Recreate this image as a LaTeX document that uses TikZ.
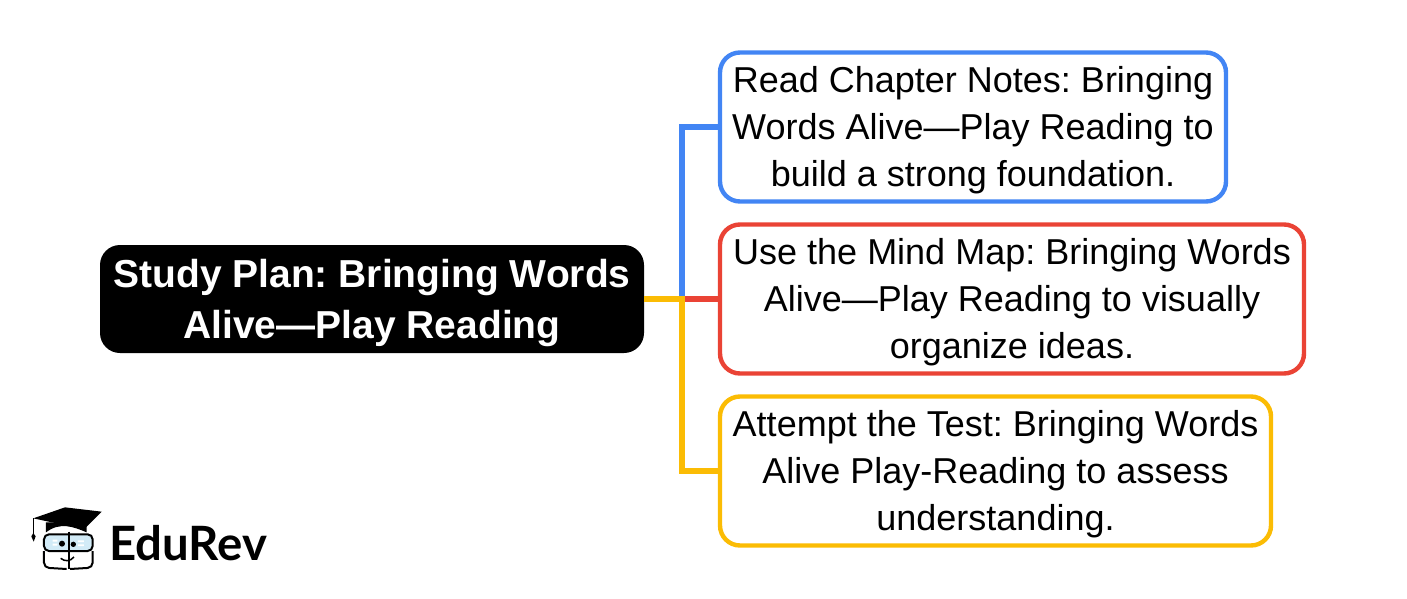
\documentclass[tikz,border=0pt]{standalone}
\usepackage{fontspec}
\setmainfont{Liberation Sans}
\newfontfamily\logofont{Lato}
\frenchspacing
\definecolor{cblue}{HTML}{4285F4}
\definecolor{cred}{HTML}{EA4335}
\definecolor{cyellow}{HTML}{FBBC04}
\definecolor{cglass}{HTML}{D2EBF7}
\newcommand{\leafdrop}{\rule{0pt}{32.5pt}}
\newcommand{\rootdrop}{\rule{0pt}{36.5pt}}
\tikzset{
  leaf/.style={draw=#1,line width=4.4pt,rounded corners=20pt,fill=white,inner sep=0pt,outer sep=0pt,align=center,anchor=north west,
    font=\fontsize{36}{46.7}\selectfont},
  rootbox/.style={fill=black,rounded corners=20pt,inner sep=0pt,outer sep=0pt,align=center,text=white,
    font=\fontsize{39}{51}\selectfont\bfseries},
  link/.style={line width=6pt,draw=#1}
}
\begin{document}
\begin{tikzpicture}[x=1pt,y=-1pt]
\useasboundingbox (0,0) rectangle (1407,599);
\node[rootbox,minimum width=544pt,minimum height=108pt] (root) at (372,299) {\rootdrop Study Plan: Bringing Words\\Alive—Play Reading};
\node[leaf=cblue,minimum width=506pt,minimum height=149pt] (a) at (720,52.5) {\leafdrop Read Chapter Notes: Bringing\\Words Alive—Play Reading to\\build a strong foundation.};
\node[leaf=cred,minimum width=584pt,minimum height=149pt] (b) at (720,224.5) {\leafdrop Use the Mind Map: Bringing Words\\Alive—Play Reading to visually\\organize ideas.};
\node[leaf=cyellow,minimum width=551pt,minimum height=149pt] (c) at (720,396.5) {\leafdrop Attempt the Test: Bringing Words\\Alive Play-Reading to assess\\understanding.};
\coordinate (trunk) at (682,299);
\draw[link=cblue] (trunk) |- (a.west);
\draw[link=cred] (trunk) -- (b.west);
\draw[link=cyellow] (root.east) -- (trunk) |- (c.west);
% logo
\begin{scope}[shift={(20,495)},x=0.3333pt,y=-0.3333pt]
  \fill[cglass,rounded corners=3pt] (72,118) rectangle (218,168);
  \fill[white] (98,134) rectangle (112,140) (98,146) rectangle (112,152) (174,136) rectangle (192,141) (174,148) rectangle (192,153);
  \draw[line width=2pt,rounded corners=5pt] (72,118) rectangle (218,168);
  \draw[line width=2pt,rounded corners=5pt] (72,168) -- (72,218) -- (140,222);
  \draw[line width=2pt,rounded corners=5pt] (218,168) -- (218,218) -- (150,222);
  \draw[line width=2pt] (146,110) -- (146,222);
  \draw[line width=1.5pt] (122,190) .. controls (135,200) and (150,200) .. (162,186);
  \fill (126,146) circle (9);
  \fill (160,148) circle (8);
  \fill[black] (78,82) -- (78,112) .. controls (120,80) and (160,95) .. (200,112) -- (200,85) -- cycle;
  \fill[black] (40,70) -- (135,37) -- (245,50) -- (192,103) -- cycle;
  \draw[line width=1pt] (40,70) -- (40,118);
  \fill (40,114) -- (47,124) -- (41,140) -- (34,124) -- cycle;
\end{scope}
\node[anchor=base west,inner sep=0pt,font=\fontsize{47.3}{47}\logofont\bfseries] (logotext) at (109,560) {EduRev};
\end{tikzpicture}
\end{document}
